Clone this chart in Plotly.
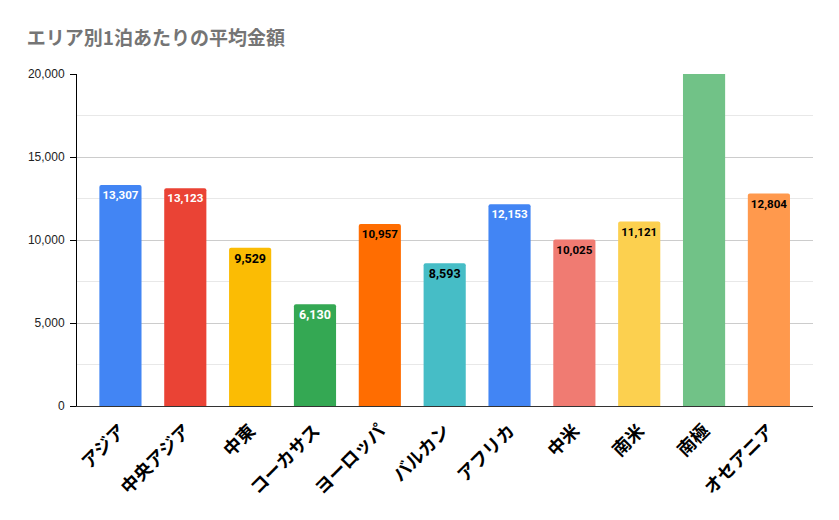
import plotly.graph_objects as go

categories = ["アジア", "中央アジア", "中東", "コーカサス", "ヨーロッパ", "バルカン",
              "アフリカ", "中米", "南米", "南極", "オセアニア"]
values = [13307, 13123, 9529, 6130, 10957, 8593, 12153, 10025, 11121, 40000, 12804]  # 南極 exceeds axis (estimated)
colors = ["#4285F4", "#EA4335", "#FBBC04", "#34A853", "#FF6D01", "#46BDC6",
          "#4285F4", "#F07B72", "#FCD04F", "#71C287", "#FF994D"]
label_colors = ["#ffffff", "#ffffff", "#000000", "#ffffff", "#000000", "#000000",
                "#ffffff", "#000000", "#000000", "#000000", "#000000"]
y_max = 20000
y_ticks = [0, 5000, 10000, 15000, 20000]
y_tick_labels = ["0", "5,000", "10,000", "15,000", "20,000"]

labels = [f"{v:,}" if v <= y_max else "" for v in values]

fig = go.Figure(go.Bar(
    x=categories, y=values,
    marker=dict(color=colors, line=dict(width=0)),
    width=0.65,
    text=labels,
    textposition="inside",
    insidetextanchor="end",
    textangle=0,
    textfont=dict(family="Roboto", size=12.5, color=label_colors, weight="bold"),
    hoverinfo="skip",
))

fig.update_layout(
    width=839, height=520,
    margin=dict(l=77, r=26, t=74, b=114),
    paper_bgcolor="white", plot_bgcolor="white",
    showlegend=False,
    barcornerradius=2,
    title=dict(text="<b>エリア別1泊あたりの平均金額</b>", x=0.032, xanchor="left",
               y=0.927, yanchor="middle",
               font=dict(family="Noto Sans CJK JP", size=19, color="#757575")),
    font=dict(family="Roboto"),
)
fig.update_xaxes(
    range=[-0.67, 10.68],
    showline=True, linecolor="#333333", linewidth=1,
    showgrid=False, ticks="",
    tickangle=-45,
    ticklabelstandoff=6,
    tickfont=dict(family="Noto Sans CJK JP", size=18, color="#000000", weight="bold"),
)
fig.update_yaxes(
    range=[0, y_max],
    tickvals=y_ticks, ticktext=y_tick_labels,
    showline=True, linecolor="#000000", linewidth=1,
    ticks="outside", ticklen=6, tickcolor="#000000",
    ticklabelstandoff=3,
    showgrid=True, gridcolor="#cccccc", gridwidth=1,
    minor=dict(dtick=2500, showgrid=True, gridcolor="#e8e8e8", ticks=""),
    tickfont=dict(family="Liberation Sans", size=12, color="#222222"),
    zeroline=False,
)

fig.write_html("out.html")
